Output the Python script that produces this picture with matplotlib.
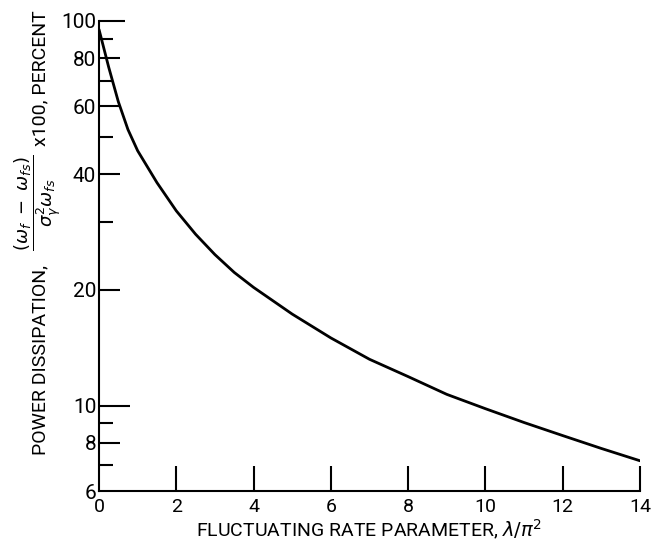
import matplotlib
matplotlib.use("Agg")
import matplotlib.pyplot as plt
import numpy as np

# Data
rate_param = [0, 0.25, 0.5, 0.75, 1.0, 1.5, 2.0, 2.5, 3.0, 3.5, 4.0, 5, 6, 7, 8, 9, 10, 11, 12, 13, 14]
power_pct = [95.1, 75.9, 61.7, 52.2, 46.0, 38.0, 32.1, 27.9, 24.7, 22.2, 20.3, 17.3, 15.0,
             13.2, 11.9, 10.7, 9.82, 9.04, 8.36, 7.74, 7.19]

x_ticks = [0, 2, 4, 6, 8, 10, 12, 14]
y_major = [6, 8, 10, 20, 40, 60, 80, 100]
y_minor = [7, 9, 30, 50, 70, 90]

ylabel_start = "POWER DISSIPATION,"
ylabel_frac = r"$\dfrac{(\omega_f\ -\ \omega_{fs})}{\sigma_\gamma^2\omega_{fs}}$"
ylabel_end = "x100, PERCENT"
xlabel = r"FLUCTUATING RATE PARAMETER, $\lambda/\pi^2$"

plt.rcParams['font.family'] = ['Roboto', 'DejaVu Sans']
plt.rcParams['mathtext.fontset'] = 'dejavusans'

W, H = 651, 549
fig = plt.figure(figsize=(W / 100, H / 100), dpi=100)
ax = fig.add_axes([99/W, 58/H, 541/W, 470/H])

ax.plot(rate_param, power_pct, color='black', lw=2.0, solid_capstyle='round',
        solid_joinstyle='round')

ax.set_yscale('log')
ax.set_xlim(0, 14)
ax.set_ylim(6, 100)

ax.spines['top'].set_visible(False)
ax.spines['right'].set_visible(False)
for s in ('left', 'bottom'):
    ax.spines[s].set_linewidth(1.5)

ax.set_xticks(x_ticks)
ax.set_xticklabels([str(v) for v in x_ticks])
ax.set_yticks(y_major)
ax.set_yticklabels([str(v) for v in y_major])
ax.set_yticks(y_minor, minor=True)
ax.yaxis.set_minor_formatter(matplotlib.ticker.NullFormatter())

ax.tick_params(axis='x', direction='in', length=18, width=1.5, labelsize=14, pad=5)
ax.tick_params(axis='y', which='major', direction='in', length=15, width=1.5, labelsize=15, pad=2)
ax.tick_params(axis='y', which='minor', direction='in', length=10, width=1.5)

for t, v in zip(ax.yaxis.get_major_ticks(), y_major):
    if v == 10:
        t.tick1line.set_markersize(22)
    elif v == 100:
        t.tick1line.set_markersize(19)
    elif v == 6:
        t.tick1line.set_markersize(0)
for t, v in zip(ax.xaxis.get_major_ticks(), x_ticks):
    if v == 0:
        t.tick1line.set_markersize(0)

ax.set_xlabel(xlabel, fontsize=14, labelpad=1)

# y label in three pieces (rotated)
fig.text(40/W, 1 - 455/H, ylabel_start, rotation=90, rotation_mode='anchor',
         ha='left', va='center', fontsize=14)
fig.text(38/W, 1 - 203/H, ylabel_frac, rotation=90, rotation_mode='anchor',
         ha='center', va='center', fontsize=13)
fig.text(40/W, 1 - 10/H, ylabel_end, rotation=90, rotation_mode='anchor',
         ha='right', va='center', fontsize=14)

fig.savefig("out.png", dpi=100)
